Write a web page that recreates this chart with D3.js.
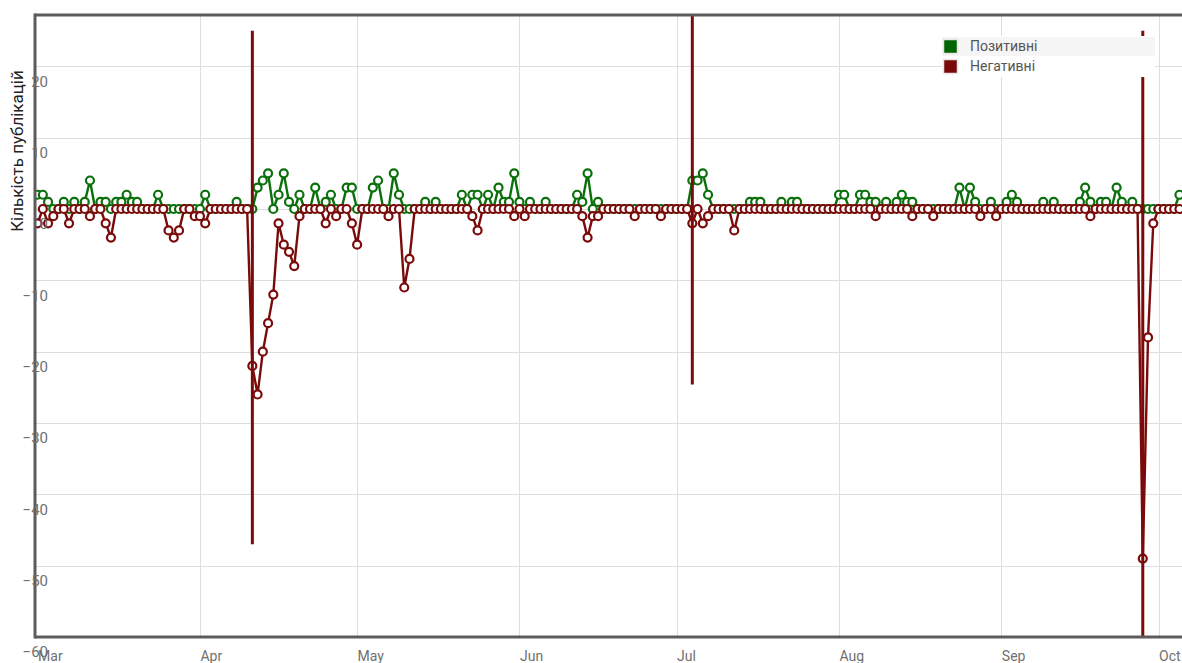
<!DOCTYPE html>
<html lang="uk">
<head>
<meta charset="UTF-8">
<title>Кількість публікацій</title>
<style>
  body { margin: 0; background: #fff; }
  svg { display: block; font-family: Roboto, "Noto Sans", sans-serif; }
  .grid line { stroke: #dedede; stroke-width: 1; shape-rendering: crispEdges; }
  .frame { stroke: #5c5c5c; stroke-width: 3; }
  .ylab { fill: #707070; font-size: 15px; }
  .xlab { fill: #707070; font-size: 14px; }
  .legend text { fill: #555; font-size: 14px; }
</style>
</head>
<body>
<script src="https://d3js.org/d3.v7.min.js"></script>
<script>
// daily counts, starting 1 March
const startDay = new Date(2022, 2, 1);

const positive = [
  2, 2, 1, 0, 0, 1, 0, 1, 0, 1,
  4, 0, 1, 1, 0, 1, 1, 2, 1, 1,
  0, 0, 0, 2, 0, 0, 0, 0, 0, 0,
  0, 0, 2, 0, 0, 0, 0, 0, 1, 0,
  0, 0, 3, 4, 5, 0, 2, 5, 1, 0,
  2, 0, 0, 3, 0, 1, 2, 0, 0, 3,
  3, 0, 0, 0, 3, 4, 0, 0, 5, 2,
  0, 0, 0, 0, 1, 0, 1, 0, 0, 0,
  0, 2, 0, 2, 2, 0, 2, 0, 3, 1,
  1, 5, 1, 0, 1, 0, 0, 1, 0, 0,
  0, 0, 0, 2, 1, 5, 0, 1, 0, 0,
  0, 0, 0, 0, 0, 0, 0, 0, 0, 0,
  0, 0, 0, 0, 0, 4, 4, 5, 2, 0,
  0, 0, 0, 0, 0, 0, 1, 1, 1, 0,
  0, 0, 1, 0, 1, 1, 0, 0, 0, 0,
  0, 0, 0, 2, 2, 0, 0, 2, 2, 1,
  1, 0, 1, 0, 1, 2, 1, 1, 0, 0,
  0, 0, 0, 0, 0, 0, 3, 0, 3, 1,
  0, 0, 1, 0, 0, 1, 2, 1, 0, 0,
  0, 0, 1, 0, 1, 0, 0, 0, 0, 1,
  3, 1, 0, 1, 1, 0, 3, 1, 0, 1,
  0, 0, 0, 0, 0, 0, 0, 0, 2
];

const negative = [
  -2, 0, -2, -1, 0, 0, -2, 0, 0, 0,
  -1, 0, 0, -2, -4, 0, 0, 0, 0, 0,
  0, 0, 0, 0, 0, -3, -4, -3, 0, 0,
  -1, -1, -2, 0, 0, 0, 0, 0, 0, 0,
  0, -22, -26, -20, -16, -12, -2, -5, -6, -8,
  -1, 0, 0, 0, 0, -2, 0, -1, 0, 0,
  -2, -5, 0, 0, 0, 0, 0, -1, 0, 0,
  -11, -7, 0, 0, 0, 0, 0, 0, 0, 0,
  0, 0, 0, -1, -3, 0, 0, 0, 0, 0,
  0, -1, 0, -1, 0, 0, 0, 0, 0, 0,
  0, 0, 0, 0, -1, -4, -1, -1, 0, 0,
  0, 0, 0, 0, -1, 0, 0, 0, 0, -1,
  0, 0, 0, 0, 0, -2, 0, -2, -1, 0,
  0, 0, 0, -3, 0, 0, 0, 0, 0, 0,
  0, 0, 0, 0, 0, 0, 0, 0, 0, 0,
  0, 0, 0, 0, 0, 0, 0, 0, 0, 0,
  -1, 0, 0, 0, 0, 0, 0, -1, 0, 0,
  0, -1, 0, 0, 0, 0, 0, 0, 0, 0,
  -1, 0, 0, -1, 0, 0, 0, 0, 0, 0,
  0, 0, 0, 0, 0, 0, 0, 0, 0, 0,
  0, -1, 0, 0, 0, 0, 0, 0, 0, 0,
  0, -49, -18, -2, 0, 0, 0, 0, 0
];

// event markers (vertical bars)
const eventDates = ["2022-04-11", "2022-07-04", "2022-09-28"];
const eventTop = [25, 32, 25];
const eventBottom = [-47, -24.6, -70];

const monthLabels = ["Mar", "Apr", "May", "Jun", "Jul", "Aug", "Sep", "Oct"];
const yTicks = [-60, -50, -40, -30, -20, -10, 0, 10, 20];
const seriesNames = ["Позитивні", "Негативні"];
const seriesColors = ["#0b700b", "#7b0b0b"];
const swatchColors = ["#006400", "#7a0a0a"];
const yTitle = "Кількість публікацій";

const width = 1182, height = 663;
const plot = { left: 35, top: 15, right: 1195, bottom: 637 };

const days = d3.timeDay.range(startDay, d3.timeDay.offset(startDay, positive.length));
const months = d3.timeMonth.range(startDay, new Date(2022, 9, 2));

const x = d3.scaleTime()
  .domain([startDay, new Date(2022, 9, 1)])
  .range([37.6, 1158.5]);
const y = d3.scaleLinear()
  .domain([-60, 27.2])
  .range([plot.bottom, plot.top]);

const svg = d3.select("body").append("svg")
  .attr("width", width)
  .attr("height", height);

svg.append("defs").append("clipPath").attr("id", "clip")
  .append("rect")
  .attr("x", plot.left).attr("y", plot.top)
  .attr("width", plot.right - plot.left).attr("height", plot.bottom - plot.top);

// grid
const grid = svg.append("g").attr("class", "grid");
grid.selectAll(".h").data(yTicks.filter(t => t > -60)).join("line")
  .attr("x1", plot.left).attr("x2", plot.right)
  .attr("y1", d => Math.round(y(d)) + 0.5).attr("y2", d => Math.round(y(d)) + 0.5);
grid.selectAll(".v").data(months.slice(1)).join("line")
  .attr("x1", d => Math.round(x(d)) + 0.5).attr("x2", d => Math.round(x(d)) + 0.5)
  .attr("y1", plot.top).attr("y2", plot.bottom);

// series
const body = svg.append("g").attr("clip-path", "url(#clip)");
const line = d3.line().x((d, i) => x(days[i])).y(d => y(d));

[positive, negative].forEach((vals, k) => {
  const g = body.append("g");
  g.append("path")
    .attr("d", line(vals))
    .attr("fill", "none")
    .attr("stroke", seriesColors[k])
    .attr("stroke-width", 2.4)
    .attr("stroke-linejoin", "round");
  g.selectAll("circle").data(vals).join("circle")
    .attr("cx", (d, i) => x(days[i]))
    .attr("cy", d => y(d))
    .attr("r", 4)
    .attr("fill", "#fff")
    .attr("stroke", seriesColors[k])
    .attr("stroke-width", 2.2);
});

// event bars
const parseDay = d3.timeParse("%Y-%m-%d");
body.selectAll(".ev").data(eventDates).join("line")
  .attr("x1", d => x(parseDay(d))).attr("x2", d => x(parseDay(d)))
  .attr("y1", (d, i) => y(eventTop[i]))
  .attr("y2", (d, i) => y(eventBottom[i]))
  .attr("stroke", seriesColors[1])
  .attr("stroke-width", 3);

// frame
svg.append("line").attr("class", "frame")
  .attr("x1", plot.left).attr("x2", plot.left).attr("y1", plot.top - 1.5).attr("y2", plot.bottom + 1.5);
svg.append("line").attr("class", "frame")
  .attr("x1", plot.left).attr("x2", plot.right).attr("y1", plot.top).attr("y2", plot.top);
svg.append("line").attr("class", "frame")
  .attr("x1", plot.left).attr("x2", plot.right).attr("y1", plot.bottom).attr("y2", plot.bottom);

// y labels
const yAxis = d3.axisLeft(y).tickValues(yTicks).tickSize(0).tickFormat(d3.format("d"));
const ya = svg.append("g").attr("transform", "translate(48,15)").call(yAxis);
ya.select(".domain").remove();
ya.selectAll("text").attr("class", "ylab").attr("dy", "0.32em").attr("x", 0)
  .attr("fill", null);
ya.attr("font-family", null).attr("font-size", null);

// x labels
const xAxis = d3.axisBottom(x).tickValues(months).tickSize(0)
  .tickFormat((d, i) => monthLabels[i]);
const xa = svg.append("g").attr("transform", "translate(0,648)").call(xAxis);
xa.select(".domain").remove();
xa.selectAll("text").attr("class", "xlab").attr("text-anchor", "start").attr("y", 13).attr("dy", 0)
  .attr("fill", null);
xa.attr("font-family", null).attr("font-size", null);

// y title
svg.append("text")
  .attr("transform", "translate(23,151) rotate(-90)")
  .attr("text-anchor", "middle")
  .attr("fill", "#222")
  .style("font-size", "17px")
  .text(yTitle);

// legend
const lg = svg.append("g").attr("class", "legend").attr("transform", "translate(942,36)");
lg.append("rect").attr("width", 213).attr("height", 41).attr("fill", "#fff");
lg.append("rect").attr("y", 1).attr("width", 213).attr("height", 19).attr("fill", "#f5f5f5");
const rows = lg.selectAll(".row").data(seriesNames).join("g")
  .attr("transform", (d, i) => `translate(0,${i * 20})`);
rows.append("rect")
  .attr("x", 1.5).attr("y", 3.5).attr("width", 14).attr("height", 14)
  .attr("fill", (d, i) => swatchColors[i])
  .attr("stroke", "#e6e6e6").attr("stroke-width", 1.5);
rows.append("text").attr("x", 28).attr("y", 15).text(d => d);
</script>
</body>
</html>
